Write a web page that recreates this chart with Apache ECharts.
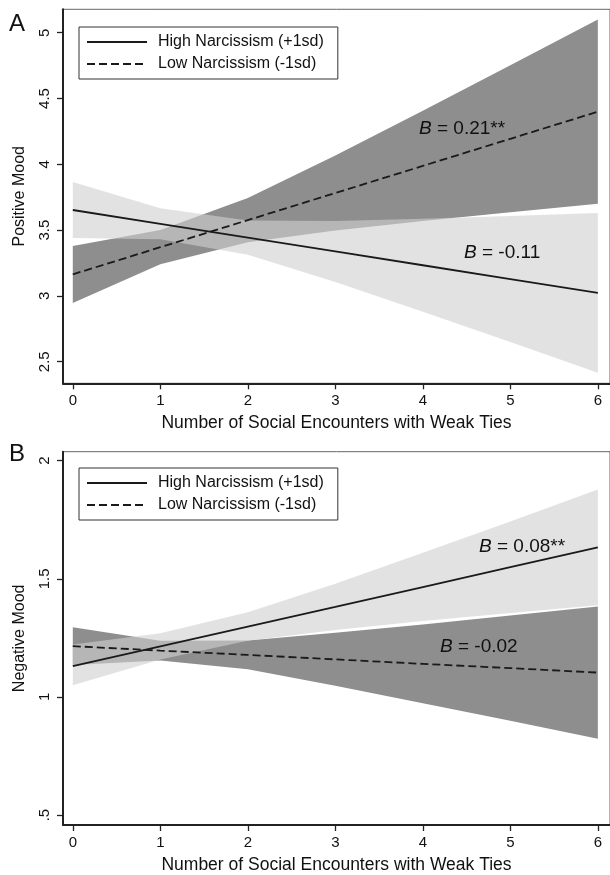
<!DOCTYPE html>
<html>
<head>
<meta charset="utf-8">
<script src="https://cdn.jsdelivr.net/npm/echarts@6/dist/echarts.min.js"></script>
<style>
html,body{margin:0;padding:0;background:#fff;}
#main{width:610px;height:875px;}
</style>
</head>
<body>
<div id="main"></div>
<script>
// ---------- data ----------
const xVals = [0, 1, 2, 3, 4, 5, 6];
const xTicks = [0, 1, 2, 3, 4, 5, 6];

// Panel A: Positive Mood
const highA    = [3.653, 3.548, 3.443, 3.338, 3.233, 3.128, 3.023];
const highA_hi = [3.865, 3.666, 3.573, 3.570, 3.586, 3.607, 3.630];
const highA_lo = [3.441, 3.430, 3.313, 3.106, 2.880, 2.650, 2.416];
const lowA     = [3.164, 3.370, 3.576, 3.782, 3.988, 4.194, 4.400];
const lowA_hi  = [3.380, 3.500, 3.744, 4.067, 4.407, 4.753, 5.100];
const lowA_lo  = [2.946, 3.240, 3.408, 3.497, 3.569, 3.635, 3.700];
const yTicksA  = [2.5, 3, 3.5, 4, 4.5, 5];
const yLabelsA = ['2.5', '3', '3.5', '4', '4.5', '5'];

// Panel B: Negative Mood
const highB    = [1.130, 1.214, 1.298, 1.381, 1.465, 1.549, 1.633];
const highB_hi = [1.222, 1.270, 1.358, 1.479, 1.610, 1.743, 1.878];
const highB_lo = [1.050, 1.158, 1.238, 1.283, 1.321, 1.355, 1.388];
const lowB     = [1.215, 1.196, 1.178, 1.159, 1.140, 1.122, 1.103];
const lowB_hi  = [1.295, 1.238, 1.239, 1.272, 1.307, 1.345, 1.383];
const lowB_lo  = [1.135, 1.154, 1.117, 1.047, 0.973, 0.899, 0.823];
const yTicksB  = [0.5, 1, 1.5, 2];
const yLabelsB = ['.5', '1', '1.5', '2'];

const seriesNames = ['High Narcissism (+1sd)', 'Low Narcissism (-1sd)'];
const xTitle = 'Number of Social Encounters with Weak Ties';
const yTitleA = 'Positive Mood';
const yTitleB = 'Negative Mood';
const annA = ['0.21**', '-0.11'];
const annB = ['0.08**', '-0.02'];

// ---------- styling ----------
const FONT = 'Liberation Sans, Arial, Helvetica, sans-serif';
const INK = '#111';
const DARK = '#8e8e8e';
const LIGHT = 'rgb(207,207,207)';
const LIGHT_OP = 0.61;

function band(idx, lo, hi, color, opacity, z) {
  const data = xVals.map((x, i) => [x, lo[i], hi[i]]);
  return {
    type: 'custom', xAxisIndex: idx, yAxisIndex: idx, silent: true, z: z,
    name: 'band' + idx + '_' + z,
    data: data, encode: { x: 0, y: [1, 2] },
    renderItem: function (params, api) {
      if (params.dataIndex !== 0) return;
      const pts = [];
      for (let i = 0; i < data.length; i++) pts.push(api.coord([data[i][0], data[i][2]]));
      for (let i = data.length - 1; i >= 0; i--) pts.push(api.coord([data[i][0], data[i][1]]));
      return { type: 'polygon', shape: { points: pts }, style: { fill: color, opacity: opacity } };
    }
  };
}
function line(idx, name, vals, dashed) {
  return {
    type: 'line', name: name, xAxisIndex: idx, yAxisIndex: idx, z: 5,
    data: xVals.map((x, i) => [x, vals[i]]),
    symbol: 'none', silent: true, animation: false,
    lineStyle: { color: '#1a1a1a', width: 1.8, type: dashed ? [8, 4] : 'solid' },
    itemStyle: { color: '#1a1a1a' }
  };
}
function xAxis(idx) {
  return {
    type: 'value', gridIndex: idx, min: -0.112, max: 6.139,
    axisLine: { show: true, onZero: false, lineStyle: { color: '#222', width: 2 } },
    axisTick: { show: true, customValues: xTicks, length: 6, lineStyle: { color: '#222', width: 1.3 } },
    axisLabel: { customValues: xTicks, color: INK, fontSize: 15, fontFamily: FONT, margin: 10 },
    splitLine: { show: false },
    name: xTitle, nameLocation: 'middle', nameGap: 31,
    nameTextStyle: { color: INK, fontSize: 17.5, fontFamily: FONT }
  };
}
function yAxis(idx, min, max, ticks, labels, title) {
  return {
    type: 'value', gridIndex: idx, min: min, max: max,
    axisLine: { show: true, onZero: false, lineStyle: { color: '#222', width: 2 } },
    axisTick: { show: true, customValues: ticks, length: 6, lineStyle: { color: '#222', width: 1.3 } },
    axisLabel: {
      customValues: ticks, rotate: 90, color: INK, fontSize: 15, fontFamily: FONT, margin: 11,
      formatter: function (v) { const k = ticks.indexOf(v); return k >= 0 ? labels[k] : ''; }
    },
    splitLine: { show: false },
    name: title, nameLocation: 'middle', nameGap: 35,
    nameTextStyle: { color: INK, fontSize: 16, fontFamily: FONT }
  };
}
function legend(top) {
  return {
    data: seriesNames, orient: 'vertical', left: 79, top: top,
    itemWidth: 60, itemHeight: 14, itemGap: 6,
    padding: [7, 14, 7, 7],
    borderColor: '#333', borderWidth: 1, backgroundColor: '#fff',
    selectedMode: false,
    itemStyle: { opacity: 0 },
    textStyle: { color: INK, fontSize: 16, fontFamily: FONT, padding: [0, 0, 0, 6] }
  };
}
function ann(x, y, val) {
  return {
    type: 'text', x: x, y: y, z: 100,
    style: {
      text: '{i|B} = ' + val, verticalAlign: 'middle', align: 'left',
      fill: INK, fontSize: 19, fontFamily: FONT,
      rich: { i: { fontStyle: 'italic', fontSize: 19, fontFamily: FONT, fill: INK } }
    }
  };
}

const chart = echarts.init(document.getElementById('main'), null, { renderer: 'canvas' });
chart.setOption({
  animation: false,
  backgroundColor: '#fff',
  grid: [
    { left: 63, top: 9.3, width: 552, height: 374, show: true, borderColor: '#666', borderWidth: 1, backgroundColor: 'transparent' },
    { left: 63, top: 451.7, width: 552, height: 373.3, show: true, borderColor: '#666', borderWidth: 1, backgroundColor: 'transparent' }
  ],
  xAxis: [xAxis(0), xAxis(1)],
  yAxis: [
    yAxis(0, 2.336, 5.178, yTicksA, yLabelsA, yTitleA),
    yAxis(1, 0.458, 2.038, yTicksB, yLabelsB, yTitleB)
  ],
  legend: [legend(27), legend(468)],
  series: [
    band(0, lowA_lo, lowA_hi, DARK, 1, 1),
    band(0, highA_lo, highA_hi, LIGHT, LIGHT_OP, 2),
    line(0, seriesNames[0], highA, false),
    line(0, seriesNames[1], lowA, true),
    band(1, lowB_lo, lowB_hi, DARK, 1, 1),
    band(1, highB_lo, highB_hi, LIGHT, LIGHT_OP, 2),
    line(1, seriesNames[0], highB, false),
    line(1, seriesNames[1], lowB, true)
  ],
  graphic: [
    { type: 'text', x: 9, y: 24, style: { text: 'A', fontSize: 24, fontFamily: FONT, fill: INK, verticalAlign: 'middle' } },
    { type: 'text', x: 9, y: 454, style: { text: 'B', fontSize: 24, fontFamily: FONT, fill: INK, verticalAlign: 'middle' } },
    ann(419, 129, annA[0]),
    ann(464, 253, annA[1]),
    ann(479, 547, annB[0]),
    ann(440, 647, annB[1])
  ]
});
</script>
</body>
</html>
